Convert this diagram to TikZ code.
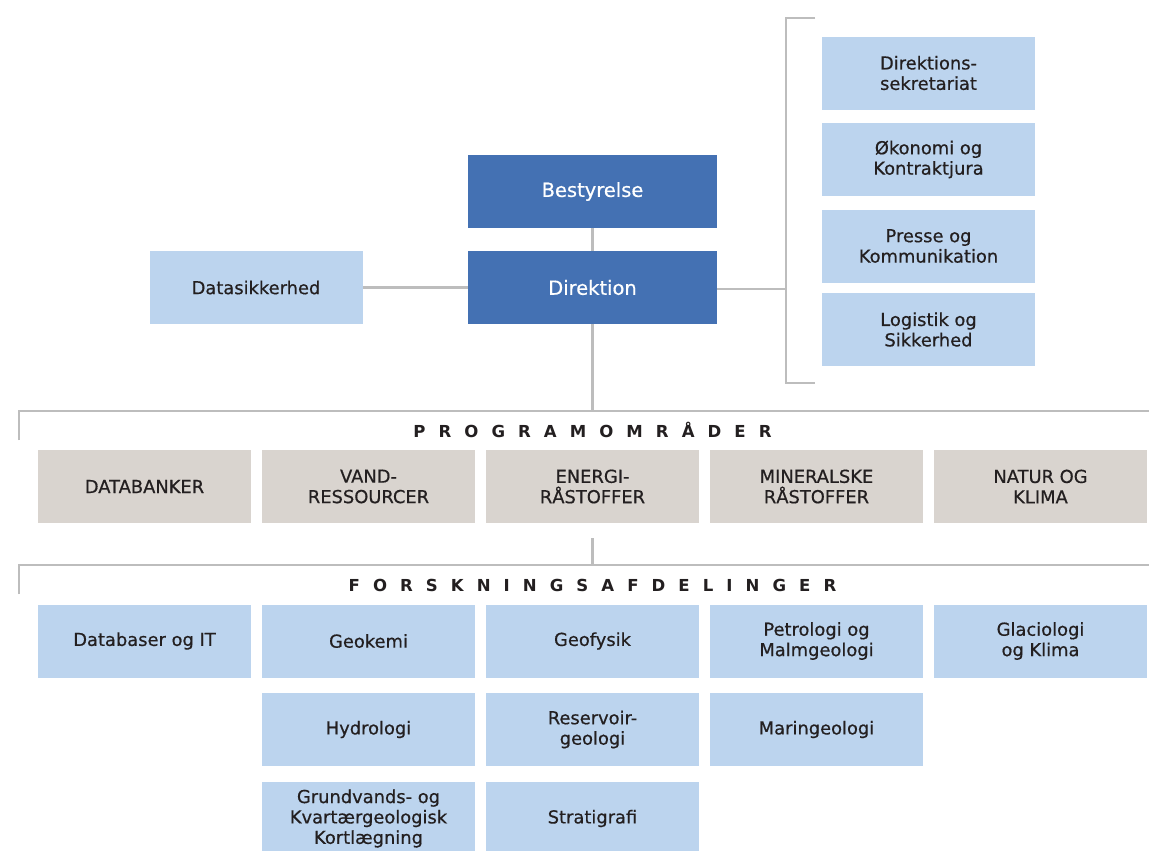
\documentclass[tikz,border=0pt]{standalone}
\usepackage{fontspec}
\setmainfont{DejaVu Sans}[FakeBold=0.6]
\newfontfamily\headfont{DejaVu Sans Bold}
\definecolor{darkblue}{HTML}{4471B3}
\definecolor{lightblue}{HTML}{BCD4EE}
\definecolor{beige}{HTML}{D9D4CF}
\definecolor{linegray}{HTML}{BDBDBD}
\definecolor{textdark}{HTML}{231F20}
\newlength\letgap
\setlength\letgap{9.8pt}
\def\spreadaux#1{\ifx#1\relax\else #1\hskip\letgap\expandafter\spreadaux\fi}
\def\spreadword#1{\spreadaux#1\relax\unskip}
\begin{document}
\begin{tikzpicture}[x=0.75pt,y=-0.75pt,
  base/.style={rectangle, inner sep=0pt, align=center, text=textdark,
    minimum width=159.75pt, minimum height=54.75pt,
    font=\fontsize{13.4pt}{15.3pt}\selectfont},
  lbox/.style={base, fill=lightblue},
  gbox/.style={base, fill=beige},
  dbox/.style={base, fill=darkblue, text=white, minimum width=186.75pt,
    font=\fontsize{14.6pt}{16pt}\selectfont},
  conn/.style={draw=linegray, line width=2pt},
  heading/.style={inner sep=0pt, text=textdark, font=\fontsize{12.4pt}{14pt}\headfont}
]
\useasboundingbox (0,0) rectangle (1149,850);
\fill[white] (0,0) rectangle (1149,850);

% top
\node[dbox] (best) at (592.5,191.5) {Bestyrelse};
\node[dbox] (dir) at (592.5,287.5) {Direktion};
\node[lbox] (data) at (256,287.5) {Datasikkerhed};

\node[lbox] (r1) at (928.5,73) {Direktions-\\sekretariat};
\node[lbox] (r2) at (928.5,159.5) {Økonomi og\\Kontraktjura};
\node[lbox] (r3) at (928.5,246) {Presse og\\Kommunikation};
\node[lbox] (r4) at (928.5,329.5) {Logistik og\\Sikkerhed};

\coordinate (brtop) at (815,18);
\coordinate (brtopc) at (786,18);
\coordinate (brmid) at (786,289);
\coordinate (brbotc) at (786,383);
\coordinate (brbot) at (815,383);

\draw[conn] (best.south) -- (dir.north);
\draw[conn] (data.east) -- (dir.west |- data.east);
\draw[conn] (dir.east |- brmid) -- (brmid);
\draw[conn] (brtop) -- (brtopc) -- (brbotc) -- (brbot);

% programomraader
\coordinate (pbar) at (592.5,411);
\coordinate (pleft) at (19,411);
\coordinate (plefttick) at (19,440);
\coordinate (pright) at (1152,411);
\draw[conn] (dir.south) -- (pbar);
\draw[conn] (plefttick) -- (pleft) -- (pright);
\node[heading] (ptitle) at (592.5,430) {\spreadword{PROGRAMOMRÅDER}};

\node[gbox] (p1) at (144.5,486.5) {DATABANKER};
\node[gbox] (p2) at (368.5,486.5) {VAND-\\RESSOURCER};
\node[gbox] (p3) at (592.5,486.5) {ENERGI-\\RÅSTOFFER};
\node[gbox] (p4) at (816.5,486.5) {MINERALSKE\\RÅSTOFFER};
\node[gbox] (p5) at (1040.5,486.5) {NATUR OG\\KLIMA};

% forskningsafdelinger
\coordinate (stubtop) at (592.5,538);
\coordinate (fbar) at (592.5,565);
\coordinate (fleft) at (19,565);
\coordinate (flefttick) at (19,594);
\coordinate (fright) at (1152,565);
\draw[conn] (stubtop) -- (fbar);
\draw[conn] (flefttick) -- (fleft) -- (fright);
\node[heading] (ftitle) at (592.5,585) {\spreadword{FORSKNINGSAFDELINGER}};

\node[lbox] (f1) at (144.5,641) {Databaser og IT};
\node[lbox] (f2) at (368.5,641) {Geokemi};
\node[lbox] (f3) at (592.5,641) {Geofysik};
\node[lbox] (f4) at (816.5,641) {Petrologi og\\Malmgeologi};
\node[lbox] (f5) at (1040.5,641) {Glaciologi\\og Klima};

\node[lbox] (g2) at (368.5,729.5) {Hydrologi};
\node[lbox] (g3) at (592.5,729.5) {Reservoir-\\geologi};
\node[lbox] (g4) at (816.5,729.5) {Maringeologi};

\node[lbox] (h2) at (368.5,818.5) {Grundvands- og\\Kvartærgeologisk\\Kortlægning};
\node[lbox] (h3) at (592.5,818.5) {Stratigrafi};
\end{tikzpicture}
\end{document}
